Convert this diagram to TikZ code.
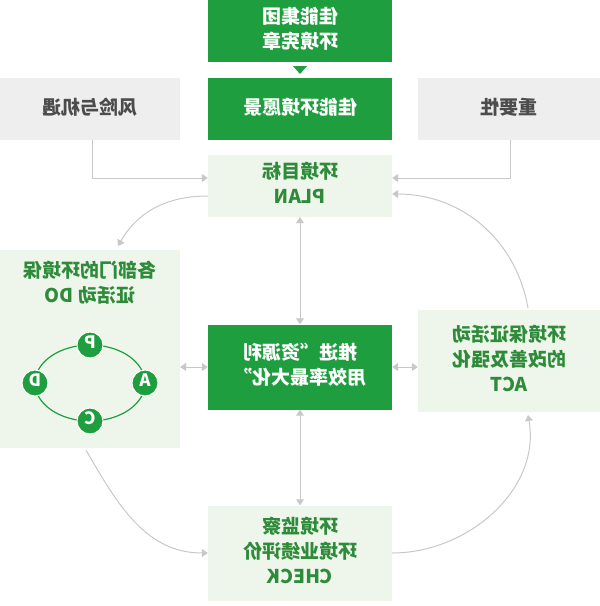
\documentclass[tikz,border=0pt]{standalone}
\usepackage{fontspec}
\setmainfont{Noto Sans CJK SC}
\usetikzlibrary{arrows.meta,calc}
\definecolor{dg}{HTML}{1E9E3E}
\definecolor{lg}{HTML}{EEF5EA}
\definecolor{gb}{HTML}{EEEEEE}
\definecolor{tg}{HTML}{2E8B3A}
\definecolor{cn}{HTML}{C8C8C8}
\newcommand{\mr}[1]{\scalebox{-1}[1]{\begin{tabular}{@{}c@{}}#1\end{tabular}}}
\begin{document}
\begin{tikzpicture}[x=1pt,y=-1pt,
 dbox/.style={fill=dg,text=white,font=\bfseries\fontsize{19}{25}\selectfont,inner sep=0},
 lbox/.style={fill=lg,text=tg,font=\bfseries\fontsize{19}{25}\selectfont,inner sep=0},
 gbox/.style={fill=gb,text=black!70,font=\bfseries\fontsize{19}{25}\selectfont,inner sep=0},
 conn/.style={draw=cn,line width=1pt,-{Triangle[length=6pt,width=8pt]}},
 dconn/.style={draw=cn,line width=1pt,{Triangle[length=6pt,width=8pt]}-{Triangle[length=6pt,width=8pt]}},
 pc/.style={circle,fill=dg,text=white,draw=white,line width=1pt,minimum size=26pt,inner sep=0,font=\bfseries\fontsize{17}{17}\selectfont}]
\useasboundingbox (0,0) rectangle (600,606);
\node[dbox,minimum width=184pt,minimum height=62pt] (charter) at (300,31) {\mr{佳能集团\\环境宪章}};
\node[dbox,minimum width=184pt,minimum height=62pt] (vision) at (300,109) {\mr{佳能环境愿景}};
\node[gbox,minimum width=180pt,minimum height=62pt] (risk) at (90,109) {\mr{风险与机遇}};
\node[gbox,minimum width=182pt,minimum height=62pt] (imp) at (509,109) {\mr{重要性}};
\node[lbox,minimum width=184pt,minimum height=62pt] (plan) at (300,186) {\mr{环境目标\\PLAN}};
\node[lbox,minimum width=180pt,minimum height=198pt] (do) at (90,349) {};
\node[lbox,anchor=north] (dotxt) at (90,260) {\mr{各部门的环境保\\证活动 DO}};
\node[dbox,minimum width=184pt,minimum height=85pt] (res) at (300,367) {\mr{推进“资源利\\用效率最大化”}};
\node[lbox,minimum width=182pt,minimum height=102pt] (act) at (509,361) {\mr{环境保证活动\\的改善及强化\\ACT}};
\node[lbox,minimum width=184pt,minimum height=95pt] (check) at (300,553) {\mr{环境监察\\环境业绩评价\\CHECK}};
\fill[dg] (293,66) -- (307,66) -- (300,74) -- cycle;
\draw[dg,line width=1.2pt] (90,383) ellipse (55pt and 38pt);
\node[pc] (p) at (90,345) {\mr{P}};
\node[pc] (a) at (145,383) {\mr{A}};
\node[pc] (d) at (35,383) {\mr{D}};
\node[pc] (c) at (90,421) {\mr{C}};
\coordinate (r1) at (92,178);
\coordinate (r2) at (510,178);
\coordinate (doin) at (118,246);
\coordinate (doout) at (86,450);
\coordinate (actin) at (528,415);
\coordinate (actout) at (528,308);
\draw[conn] (risk.south -| r1) |- (plan.west |- r1);
\draw[conn] (imp.south -| r2) |- (plan.east |- r2);
\draw[dconn] (plan.south) -- (res.north);
\draw[dconn] (res.south) -- (check.north);
\draw[dconn] (do.east |- res) -- (res.west);
\draw[dconn] (res.east) -- (act.west |- res);
\draw[conn] ($(plan.west)+(0,10)$) to[out=180,in=60] (doin);
\draw[conn] (doout) to[out=-60,in=180] (check.west);
\draw[conn] (check.east) to[out=0,in=-80] (actin);
\draw[conn] (actout) to[out=100,in=0] ($(plan.east)+(0,8)$);
\end{tikzpicture}
\end{document}
